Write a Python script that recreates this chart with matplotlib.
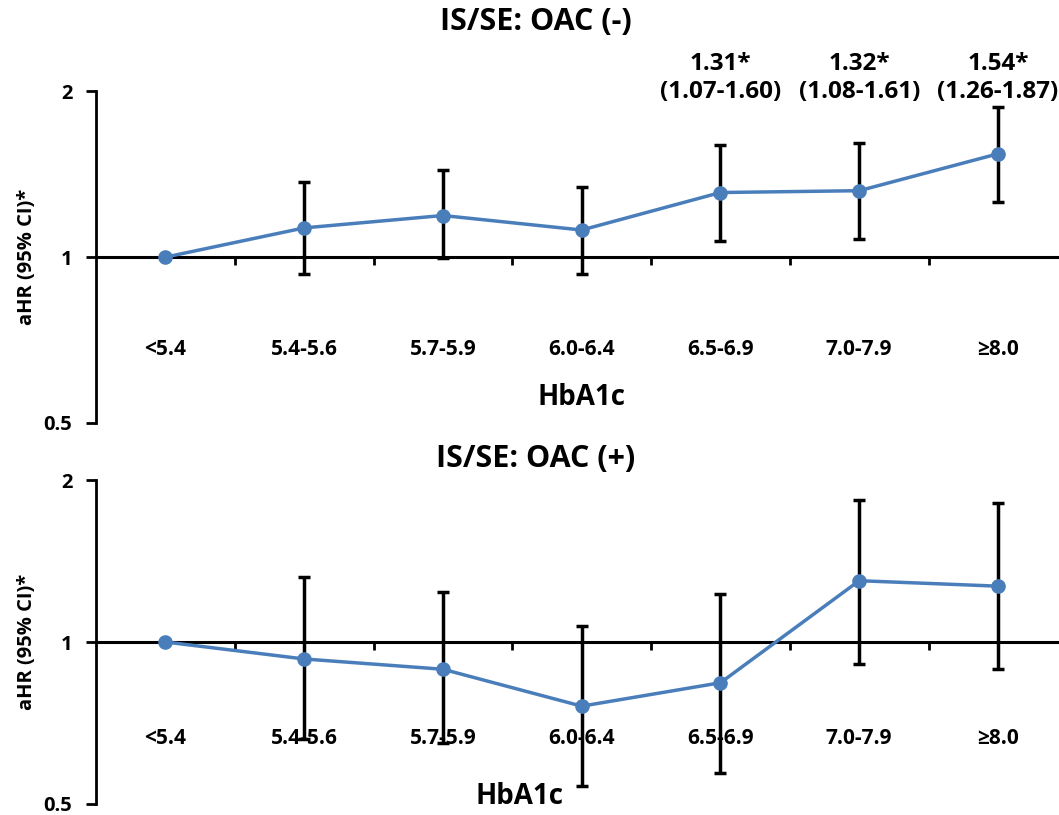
import matplotlib
matplotlib.use("Agg")
import matplotlib.pyplot as plt
from matplotlib.ticker import FixedLocator, NullFormatter, FixedFormatter

plt.rcParams['font.family'] = ['Open Sans', 'DejaVu Sans']
plt.rcParams['font.weight'] = 'bold'

categories = ["<5.4", "5.4-5.6", "5.7-5.9", "6.0-6.4", "6.5-6.9", "7.0-7.9", "\u22658.0"]

neg_hr = [1.00, 1.13, 1.19, 1.12, 1.31, 1.32, 1.54]
neg_lo = [1.00, 0.93, 0.995, 0.93, 1.07, 1.08, 1.26]
neg_hi = [1.00, 1.37, 1.44, 1.34, 1.60, 1.61, 1.87]

pos_hr = [1.00, 0.93, 0.89, 0.76, 0.84, 1.30, 1.27]
pos_lo = [1.00, 0.66, 0.65, 0.54, 0.57, 0.91, 0.89]
pos_hi = [1.00, 1.32, 1.24, 1.07, 1.23, 1.84, 1.81]

annot_idx = [4, 5, 6]
annot_txt = ["1.31*\n(1.07-1.60)", "1.32*\n(1.08-1.61)", "1.54*\n(1.26-1.87)"]

titles = ["IS/SE: OAC (-)", "IS/SE: OAC (+)"]
ylabel = "aHR (95% CI)*"
xlabel = "HbA1c"
yticks = [0.5, 1, 2]
ytick_labels = ["0.5", "1", "2"]

line_color = "#4a7ebb"

W, H = 1059, 815
fig = plt.figure(figsize=(W / 100, H / 100), dpi=100)
ax1 = fig.add_axes([0.0907, 0.481, 0.9093, 0.407])
ax2 = fig.add_axes([0.0907, 0.0135, 0.9093, 0.3975])


def draw(ax, hr, lo, hi, pad):
    x = list(range(len(categories)))
    yerr = [[h - l for h, l in zip(hr, lo)], [u - h for h, u in zip(hr, hi)]]
    ax.errorbar(x, hr, yerr=yerr, fmt='none', ecolor='black', elinewidth=2.5,
                capsize=4, capthick=2.5, zorder=3)
    ax.plot(x, hr, color=line_color, lw=2.5, marker='o', markersize=9.5,
            markerfacecolor=line_color, markeredgecolor=line_color, zorder=4)
    ax.set_yscale('log')
    ax.set_ylim(0.5, 2)
    ax.set_xlim(-0.5, 6.44)
    for s in ['top', 'right']:
        ax.spines[s].set_visible(False)
    ax.spines['left'].set_linewidth(2)
    ax.spines['bottom'].set_position(('data', 1))
    ax.spines['bottom'].set_linewidth(2.2)
    ax.yaxis.set_major_locator(FixedLocator(yticks))
    ax.yaxis.set_major_formatter(FixedFormatter(ytick_labels))
    ax.yaxis.set_minor_locator(FixedLocator([]))
    ax.tick_params(axis='y', which='major', direction='out', length=7, width=2,
                   labelsize=14.5, pad=10)
    ax.xaxis.set_major_locator(FixedLocator([i + 0.5 for i in range(6)]))
    ax.xaxis.set_major_formatter(NullFormatter())
    ax.tick_params(axis='x', which='major', direction='out', length=6, width=2)
    ax.xaxis.set_minor_locator(FixedLocator(x))
    ax.xaxis.set_minor_formatter(FixedFormatter(categories))
    ax.tick_params(axis='x', which='minor', length=0, labelsize=15, pad=pad)
    for lab in ax.get_yticklabels() + ax.get_xticklabels(minor=True):
        lab.set_fontweight('bold')


draw(ax1, neg_hr, neg_lo, neg_hi, 59)
draw(ax2, pos_hr, pos_lo, pos_hi, 62)

# y-axis labels
for yc in [257, 642]:
    fig.text(27 / W, 1 - yc / H, ylabel, rotation=90, fontsize=14.5,
             fontweight='bold', ha='center', va='center')

# panel titles
fig.text(536 / W, 1 - 22 / H, titles[0], fontsize=22, fontweight='bold',
         ha='center', va='center')
fig.text(536 / W, 1 - 459 / H, titles[1], fontsize=22, fontweight='bold',
         ha='center', va='center')

# x-axis labels
fig.text(581 / W, 1 - 397 / H, xlabel, fontsize=20, fontweight='bold',
         ha='center', va='center')
fig.text(520 / W, 1 - 796 / H, xlabel, fontsize=20, fontweight='bold',
         ha='center', va='center')

for i, t in zip(annot_idx, annot_txt):
    ax1.text(i, 2.0 ** 1.08, t, fontsize=17.5, fontweight='bold', ha='center',
             va='center', linespacing=1.25)

fig.savefig("out.png", dpi=100)
